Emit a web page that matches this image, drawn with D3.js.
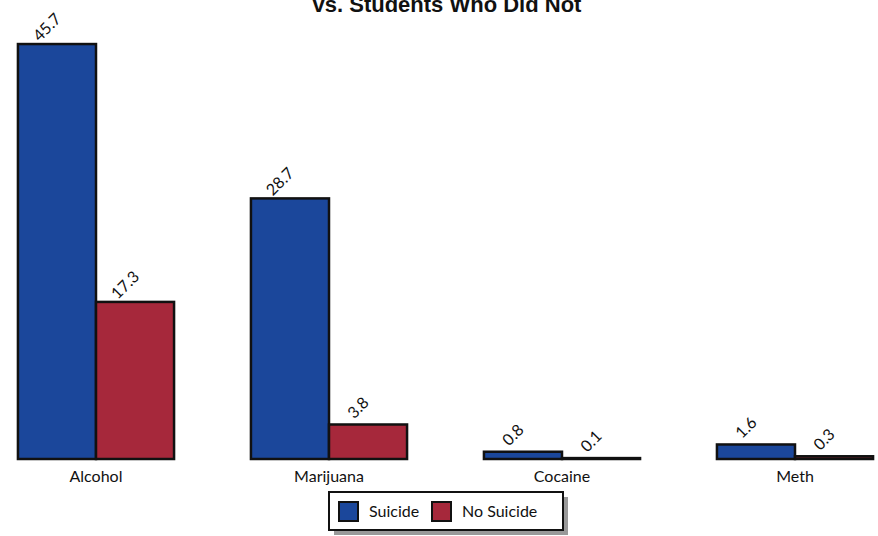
<!DOCTYPE html>
<html>
<head>
<meta charset="utf-8">
<script src="https://cdn.jsdelivr.net/npm/d3@7/dist/d3.min.js"></script>
<style>
  html, body { margin: 0; padding: 0; background: #fff; }
  svg { display: block; }
</style>
</head>
<body>
<svg id="chart" width="878" height="536"></svg>
<script>
const categories = ["Alcohol", "Marijuana", "Cocaine", "Meth"];
const seriesNames = ["Suicide", "No Suicide"];
const suicideValues = [45.7, 28.7, 0.8, 1.6];
const noSuicideValues = [17.3, 3.8, 0.1, 0.3];
const titleLines = ["Drug Use Among Students Who Attempted Suicide", "vs. Students Who Did Not"];

const colors = { "Suicide": "#1b479b", "No Suicide": "#a6283b" };
const font = "Lato, 'Noto Sans', sans-serif";

const svg = d3.select("#chart");

const x0 = d3.scaleBand().domain(categories).range([-20.5, 911.5]).paddingInner(0.33).paddingOuter(0.165);
const x1 = d3.scaleBand().domain(seriesNames).range([0, x0.bandwidth()]);
const y = d3.scaleLinear().domain([0, 50]).range([459, 5]);

const data = categories.map((c, i) => ({
  cat: c,
  vals: [
    { key: "Suicide", value: suicideValues[i] },
    { key: "No Suicide", value: noSuicideValues[i] }
  ]
}));

// Title (first line falls above the visible area, as in the reference)
svg.append("g").selectAll("text").data(titleLines).join("text")
  .attr("x", 447)
  .attr("y", (d, i) => 12 - (titleLines.length - 1 - i) * 26)
  .attr("text-anchor", "middle")
  .attr("font-family", "'Liberation Sans', Arial, sans-serif")
  .attr("font-weight", "bold")
  .attr("font-size", 22)
  .attr("fill", "#111")
  .text(d => d);

const groups = svg.append("g").selectAll("g").data(data).join("g")
  .attr("transform", d => `translate(${x0(d.cat)},0)`);

groups.selectAll("rect").data(d => d.vals).join("rect")
  .attr("x", d => x1(d.key))
  .attr("y", d => y(d.value))
  .attr("width", x1.bandwidth())
  .attr("height", d => y(0) - y(d.value))
  .attr("fill", d => colors[d.key])
  .attr("stroke", "#111")
  .attr("stroke-width", 2.5);

groups.selectAll("text.val").data(d => d.vals).join("text")
  .attr("class", "val")
  .attr("transform", d => `translate(${x1(d.key) + x1.bandwidth() / 2 - 6},${y(d.value) - 13}) rotate(-45)`)
  .attr("text-anchor", "middle")
  .attr("font-family", font)
  .attr("font-size", 16)
  .attr("fill", "#111")
  .text(d => d.value.toFixed(1));

// X axis labels
const xAxis = d3.axisBottom(x0).tickSize(0).tickPadding(12);
const gx = svg.append("g").attr("transform", `translate(0,${y(0)})`).call(xAxis);
gx.select(".domain").remove();
gx.selectAll("text")
  .attr("font-family", font)
  .attr("font-size", 16)
  .attr("fill", "#111");

// Legend
const lg = svg.append("g").attr("transform", "translate(329,492)");
lg.append("rect").attr("x", 5).attr("y", 5).attr("width", 234).attr("height", 38).attr("fill", "#999");
lg.append("rect").attr("x", 0).attr("y", 0).attr("width", 234).attr("height", 38)
  .attr("fill", "#fff").attr("stroke", "#111").attr("stroke-width", 2);
const legendX = [10, 103];
const items = lg.selectAll("g.item").data(seriesNames).join("g")
  .attr("class", "item")
  .attr("transform", (d, i) => `translate(${legendX[i]},10)`);
items.append("rect").attr("width", 19).attr("height", 19)
  .attr("fill", d => colors[d]).attr("stroke", "#111").attr("stroke-width", 2);
items.append("text").attr("x", 30).attr("y", 15)
  .attr("font-family", font).attr("font-size", 16).attr("fill", "#111")
  .text(d => d);
</script>
</body>
</html>
